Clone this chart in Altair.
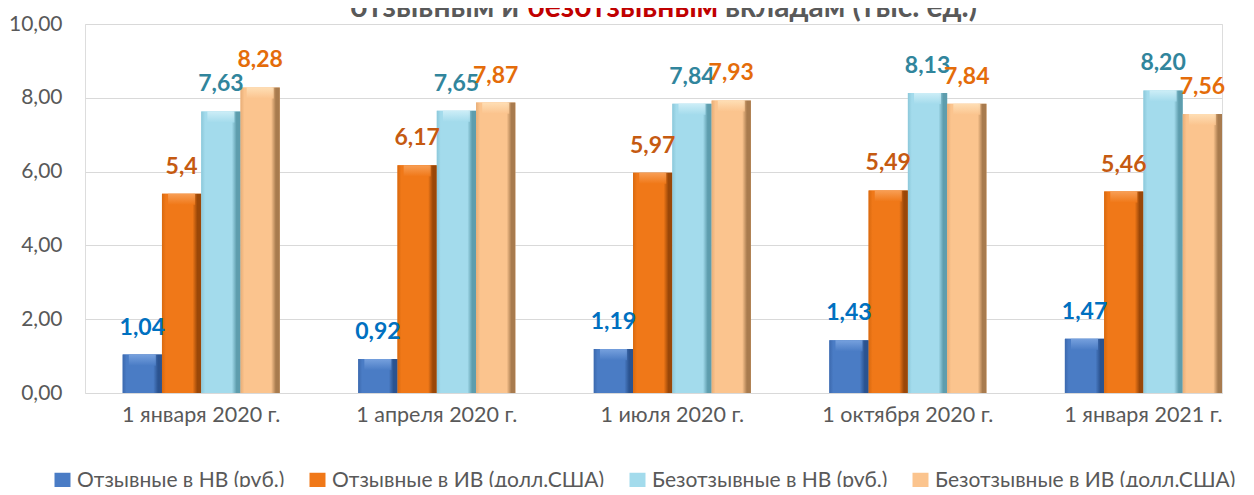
import altair as alt
import pandas as pd

FONT = "Lato"

dates = ["1 января 2020 г.", "1 апреля 2020 г.", "1 июля 2020 г.",
         "1 октября 2020 г.", "1 января 2021 г."]
series = ["Отзывные в НВ (руб.)", "Отзывные в ИВ (долл.США)",
          "Безотзывные в НВ (руб.)", "Безотзывные в ИВ (долл.США)"]

otz_nv = [1.04, 0.92, 1.19, 1.43, 1.47]
otz_iv = [5.40, 6.17, 5.97, 5.49, 5.46]
bez_nv = [7.63, 7.65, 7.84, 8.13, 8.20]
bez_iv = [8.28, 7.87, 7.93, 7.84, 7.56]

otz_nv_lbl = ["1,04", "0,92", "1,19", "1,43", "1,47"]
otz_iv_lbl = ["5,4", "6,17", "5,97", "5,49", "5,46"]
bez_nv_lbl = ["7,63", "7,65", "7,84", "8,13", "8,20"]
bez_iv_lbl = ["8,28", "7,87", "7,93", "7,84", "7,56"]

y_ticks = [0, 2, 4, 6, 8, 10]

title_parts = ["отзывным и ", "безотзывным", " вкладам (тыс. ед.)"]

bar_colors = ["#4A7CC5", "#F07818", "#A3DBEC", "#FBC48E"]
bar_dark = ["#2B5390", "#9A4708", "#5E9DAD", "#A87B4E"]
bar_edge = ["#3C69AE", "#D8690F", "#8CC8DA", "#E8AE78"]
bar_light = ["#7EA7E2", "#F9A560", "#D4F1F9", "#FFE3BC"]
label_colors = ["#0070C0", "#C55A11", "#31859C", "#E46C0A"]

rows = []
for vals, lbls, s in zip([otz_nv, otz_iv, bez_nv, bez_iv],
                         [otz_nv_lbl, otz_iv_lbl, bez_nv_lbl, bez_iv_lbl], series):
    for d, v, l in zip(dates, vals, lbls):
        rows.append({"date": d, "series": s, "value": v, "label": l})
df = pd.DataFrame(rows)

x_enc = alt.X("date:N", sort=dates,
              scale=alt.Scale(paddingInner=0.333, paddingOuter=0.08, align=1),
              axis=alt.Axis(title=None, labelFontSize=21.5, labelColor="#595959",
                            labelFont=FONT, domain=False, ticks=False,
                            labelPadding=11, labelAngle=0))
xo_enc = alt.XOffset("series:N", sort=series,
                     scale=alt.Scale(domain=series, paddingInner=0, paddingOuter=0))
y_enc = alt.Y("value:Q", scale=alt.Scale(domain=[0, 10], nice=False),
              axis=alt.Axis(title=None, values=y_ticks,
                            labelExpr="replace(format(datum.value, '.2f'), '.', ',')",
                            labelFontSize=21, labelColor="#595959", labelFont=FONT,
                            labelPadding=23, domain=False, ticks=False,
                            gridColor="#D9D9D9", gridWidth=1))

base = alt.Chart(df)

bars = base.mark_bar().encode(
    x=x_enc, xOffset=xo_enc, y=y_enc,
    color=alt.Color("series:N", sort=series,
                    scale=alt.Scale(domain=series, range=bar_colors),
                    legend=alt.Legend(title=None, orient="none", legendX=-33, legendY=446,
                                      direction="horizontal", symbolType="square",
                                      symbolSize=256, symbolStrokeWidth=0,
                                      labelFontSize=21, labelColor="#595959",
                                      labelFont=FONT, labelOffset=4, labelLimit=0,
                                      columnPadding=22)),
)

layers = [bars]
for i, s in enumerate(series):
    grad = alt.LinearGradient(
        gradient="linear", x1=0, x2=1, y1=0, y2=0,
        stops=[alt.GradientStop(offset=0, color=bar_edge[i]),
               alt.GradientStop(offset=0.1, color=bar_colors[i]),
               alt.GradientStop(offset=0.78, color=bar_colors[i]),
               alt.GradientStop(offset=0.9, color=bar_dark[i]),
               alt.GradientStop(offset=1, color=bar_dark[i])])
    top_grad = alt.LinearGradient(
        gradient="linear", x1=0, x2=0, y1=0, y2=1,
        stops=[alt.GradientStop(offset=0, color=bar_light[i]),
               alt.GradientStop(offset=1, color=bar_colors[i])])
    layers.append(base.transform_filter(alt.datum.series == s)
                  .mark_bar(fill=grad)
                  .encode(x=x_enc, xOffset=xo_enc, y=y_enc))
    layers.append(base.transform_filter(alt.datum.series == s)
                  .transform_calculate(top2="datum.value - 0.3")
                  .mark_bar(fill=top_grad, opacity=0.85, width=27)
                  .encode(x=x_enc, xOffset=xo_enc, y=y_enc, y2="top2:Q"))

labels = base.mark_text(font=FONT, fontSize=23, fontWeight="bold",
                        baseline="alphabetic", dy=-20).encode(
    x=x_enc, xOffset=xo_enc, y=y_enc, text="label:N",
    color=alt.Color("series:N", sort=series,
                    scale=alt.Scale(domain=series, range=label_colors), legend=None),
)
layers.append(labels)

tdf = pd.DataFrame({"t": title_parts})
t1 = alt.Chart(tdf).transform_filter(alt.datum.t == title_parts[0]).mark_text(
    font=FONT, fontSize=30, fontWeight="bold", color="#595959", align="right",
    baseline="alphabetic").encode(x=alt.value(434), y=alt.value(-7), text="t:N")
t2 = alt.Chart(tdf).transform_filter(alt.datum.t == title_parts[1]).mark_text(
    font=FONT, fontSize=30, fontWeight="bold", color="#C00000", align="left",
    baseline="alphabetic").encode(x=alt.value(442), y=alt.value(-7), text="t:N")
t3 = alt.Chart(tdf).transform_filter(alt.datum.t == title_parts[2]).mark_text(
    font=FONT, fontSize=30, fontWeight="bold", color="#595959", align="left",
    baseline="alphabetic").encode(x=alt.value(640), y=alt.value(-7), text="t:N")
layers += [t1, t2, t3]

chart = alt.layer(*layers).resolve_scale(color="independent").properties(
    width=1137, height=369,
    padding={"left": 77, "top": 16, "right": 24, "bottom": 94},
    autosize=alt.AutoSizeParams(type="none"),
).configure_view(stroke=None).configure(font=FONT)

chart.save("out.html", embed_options={"renderer": "svg", "actions": False})
